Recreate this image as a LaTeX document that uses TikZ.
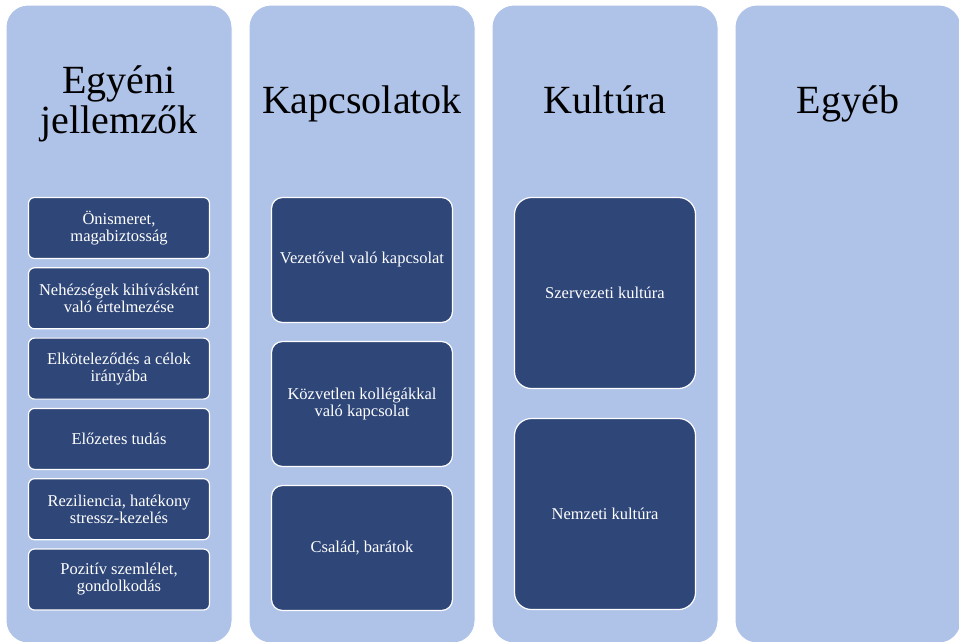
\documentclass[tikz,border=0pt]{standalone}
\usepackage{fontspec}
\setmainfont{Liberation Serif}
\definecolor{colfill}{RGB}{175,194,231}
\definecolor{boxfill}{RGB}{47,70,120}
\begin{document}
\begin{tikzpicture}[x=1pt,y=-1pt,
  column/.style={draw=white, line width=1pt, fill=colfill, rounded corners=22pt,
    minimum width=226pt, minimum height=638pt, inner sep=0pt},
  title/.style={font=\fontsize{40}{40}\selectfont, anchor=base, inner sep=0pt},
  item/.style={draw=white, line width=1.2pt, fill=boxfill, text=white, align=center,
    font=\fontsize{16.5}{17}\selectfont, minimum width=181pt, inner sep=0pt},
  itemA/.style={item, minimum height=61pt, rounded corners=6pt},
  itemB/.style={item, minimum height=125pt, rounded corners=11pt},
  itemC/.style={item, minimum height=191pt, rounded corners=17pt},
]
\useasboundingbox (0,0) rectangle (959,641);
\clip (0,0) rectangle (959,641);
\fill[white] (0,0) rectangle (959,641);

\node[column] (c1) at (119,324) {};
\node[column] (c2) at (362,324) {};
\node[column] (c3) at (605,324) {};
\node[column] (c4) at (848,324) {};

\node[title] (t1a) at (119,93) {Egyéni};
\node[title] (t1b) at (119,133) {jellemzők};
\node[title] (t2) at (362,113) {Kapcsolatok};
\node[title] (t3) at (605,113) {Kultúra};
\node[title] (t4) at (848,113) {Egyéb};

\node[itemA] (a1) at (119,228) {Önismeret,\\magabiztosság};
\node[itemA] (a2) at (119,298.3) {Nehézségek kihívásként\\való értelmezése};
\node[itemA] (a3) at (119,368.6) {Elköteleződés a célok\\irányába};
\node[itemA] (a4) at (119,438.9) {Előzetes tudás};
\node[itemA] (a5) at (119,509.2) {Reziliencia, hatékony\\stressz-kezelés};
\node[itemA] (a6) at (119,579.5) {Pozitív szemlélet,\\gondolkodás};

\node[itemB] (b1) at (362,260) {Vezetővel való kapcsolat};
\node[itemB] (b2) at (362,404) {Közvetlen kollégákkal\\való kapcsolat};
\node[itemB] (b3) at (362,548) {Család, barátok};

\node[itemC] (k1) at (605,293) {Szervezeti kultúra};
\node[itemC] (k2) at (605,514) {Nemzeti kultúra};
\end{tikzpicture}
\end{document}
